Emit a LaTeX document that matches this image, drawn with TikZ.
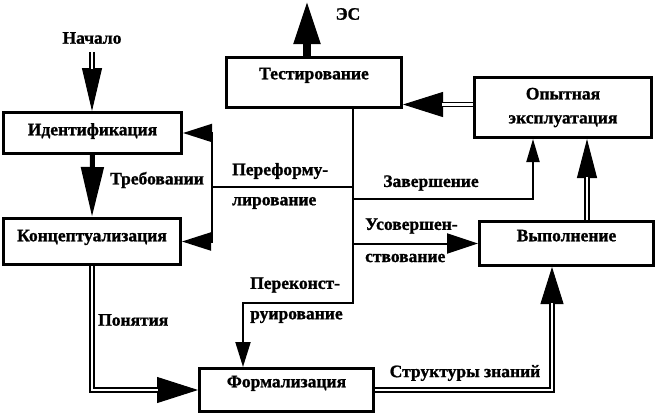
\documentclass[tikz,border=0pt]{standalone}
\usepackage{fontspec}
\setmainfont{Liberation Serif}[BoldFeatures={FakeBold=1.2}]
\usetikzlibrary{arrows.meta,calc}
\begin{document}
\begin{tikzpicture}[x=1pt,y=-1pt,
  every node/.style={font=\bfseries\fontsize{17.5}{20}\selectfont},
  box/.style={draw, line width=3pt, inner sep=0pt, text height=12.5pt},
  lab/.style={inner sep=0pt},
  ln/.style={line width=2pt},
  dbl/.style={double, double distance=2.5pt, line width=1.5pt},
  thinshaft/.style={line width=1pt},
  headtip/.style n args={2}{-{Triangle[length=#1pt,width=#2pt]}}
]
\useasboundingbox (0,0) rectangle (659,418);

% boxes
\node[box, minimum width=175pt, minimum height=50pt, text depth=19pt] (test) at (314,82.5) {Тестирование};
\node[box, minimum width=178pt, minimum height=41pt, text depth=8pt] (ident) at (92.5,133) {Идентификация};
\node[box, minimum width=177pt, minimum height=46pt, text depth=13pt] (konc) at (92,241.5) {Концептуализация};
\node[box, minimum width=174pt, minimum height=43pt, text depth=18pt] (form) at (286.5,390) {Формализация};
\node[box, minimum width=174pt, minimum height=44pt, text depth=17pt] (vyp) at (566.5,243.5) {Выполнение};
\node[draw, line width=3pt, inner sep=0pt, minimum width=177pt, minimum height=60pt, align=center,
      font=\bfseries\fontsize{17.5}{24}\selectfont] (opyt) at (563,107.5) {Опытная\\эксплуатация};

% labels
\node[lab] (start) at (92,38) {Начало};
\node[lab] (es) at (348,14) {ЭС};
\node[lab] (req) at (157,180) {Требовании};
\node[lab, anchor=west] (pf1) at (232,171) {Переформу-};
\node[lab, anchor=west] (pf2) at (232,203) {лирование};
\node[lab] (zav) at (431,183) {Завершение};
\node[lab, anchor=west] (us1) at (365,226) {Усовершен-};
\node[lab, anchor=west] (us2) at (365,258) {ствование};
\node[lab, anchor=west] (pk1) at (250,285) {Переконст-};
\node[lab, anchor=west] (pk2) at (250,317) {руирование};
\node[lab, anchor=west] (pon) at (98,320) {Понятия};
\node[lab] (str) at (465,373) {Структуры знаний};

% helper coordinates
\coordinate (tr) at (353,0);
\coordinate (rk) at (243,303);
\coordinate (fb) at (212,187);
\coordinate (zv) at (533,199);
\coordinate (fv) at (552,0);
\coordinate (vo) at (587,0);
\coordinate (ar) at (0,104.5);
\coordinate (esx) at (307,0);
\coordinate (estip) at (307,1);

% Начало -> Идентификация
\draw[thinshaft, headtip={43}{20}, shorten <=8pt] (start.south) -- (start.south |- ident.north);
\draw[dbl, shorten <=8pt, shorten >=42pt] (start.south) -- (start.south |- ident.north);

% Идентификация -> Концептуализация
\draw[line width=5pt, headtip={50}{22}] (ident.south) -- (konc.north);

% Концептуализация -> Формализация
\draw[thinshaft, headtip={41}{26}] (konc.south) |- (form.west);
\draw[dbl, shorten >=40pt] (konc.south) |- (form.west);

% Формализация -> Выполнение
\draw[thinshaft, headtip={37}{23}] (form.east) -| (fv |- vyp.south);
\draw[dbl, shorten >=36pt] (form.east) -| (fv |- vyp.south);

% Выполнение -> Опытная эксплуатация
\draw[thinshaft, headtip={39}{20}] (vo |- vyp.north) -- (vo |- opyt.south);
\draw[dbl, shorten >=38pt] (vo |- vyp.north) -- (vo |- opyt.south);

% Опытная эксплуатация -> Тестирование
\draw[thinshaft, headtip={40}{25}] (opyt.west |- ar) -- (test.east |- ar);
\draw[dbl, shorten >=39pt] (opyt.west |- ar) -- (test.east |- ar);

% Тестирование -> ЭС
\draw[line width=8pt, headtip={43}{25}] (esx |- test.north) -- (estip);

% trunk and Переконструирование
\draw[ln, headtip={25}{15}] (tr |- test.south) |- (rk) -- (rk |- form.north);

% Переформулирование
\draw[ln] (tr |- fb) -- (fb);
\draw[ln, headtip={29}{18}] (fb) |- (ident.east);
\draw[ln, headtip={29}{18}] (fb) |- (konc.east);

% Завершение
\draw[ln, headtip={23}{13}] (tr |- zv) -| (zv |- opyt.south);

% Усовершенствование
\draw[ln, headtip={31}{20}] (tr |- vyp.west) -- (vyp.west);
\end{tikzpicture}
\end{document}
